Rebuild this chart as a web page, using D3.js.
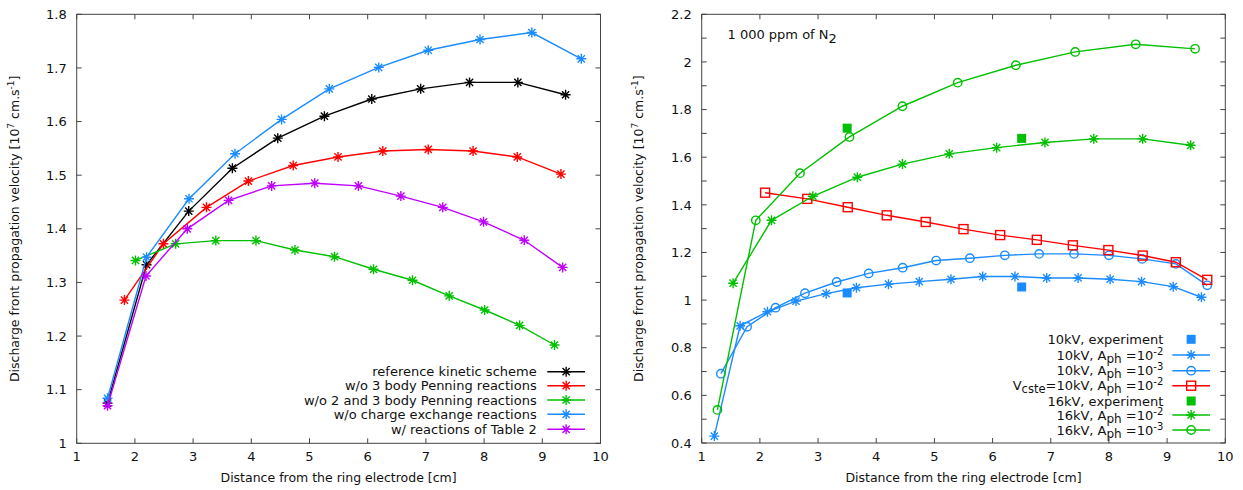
<!DOCTYPE html>
<html><head><meta charset="utf-8">
<script src="https://cdn.jsdelivr.net/npm/d3@7"></script>
<style>body{margin:0;background:#fff}svg{display:block;font-family:"DejaVu Sans",sans-serif}</style>
</head><body><svg id="c" width="1243" height="490"></svg>
<script>
// ---------- Left panel data ----------
const refX = [1.53,2.20,2.925,3.675,4.455,5.256,6.07,6.91,7.75,8.58,9.40];
const refY = [1.075,1.333,1.433,1.513,1.569,1.610,1.642,1.661,1.673,1.673,1.650];
const no3X = [1.82,2.49,3.23,3.95,4.72,5.49,6.26,7.04,7.81,8.57,9.32];
const no3Y = [1.267,1.372,1.440,1.489,1.518,1.534,1.545,1.548,1.545,1.534,1.502];
const no23X = [2.01,2.70,3.39,4.08,4.75,5.43,6.10,6.77,7.40,8.01,8.61,9.21];
const no23Y = [1.341,1.372,1.378,1.378,1.3605,1.348,1.3245,1.304,1.275,1.2486,1.220,1.1833];
const noceX = [1.53,2.20,2.93,3.72,4.52,5.34,6.19,7.04,7.93,8.82,9.67];
const noceY = [1.084,1.347,1.456,1.540,1.604,1.661,1.701,1.733,1.753,1.766,1.717];
const t2X = [1.53,2.19,2.90,3.61,4.35,5.09,5.84,6.57,7.29,7.99,8.69,9.35];
const t2Y = [1.070,1.312,1.400,1.453,1.480,1.485,1.480,1.461,1.440,1.413,1.3786,1.328];
const leftNames = ["reference kinetic scheme","w/o 3 body Penning reactions","w/o 2 and 3 body Penning reactions","w/o charge exchange reactions","w/ reactions of Table 2"];
const leftXTicks = [1,2,3,4,5,6,7,8,9,10];
const leftYTicks = [1,1.1,1.2,1.3,1.4,1.5,1.6,1.7,1.8];

// ---------- Right panel data ----------
const exp10X = [3.50,6.50];
const exp10Y = [1.030,1.055];
const b2X = [1.217,1.66,2.13,2.62,3.14,3.66,4.21,4.74,5.285,5.83,6.385,6.93,7.47,8.02,8.56,9.105,9.59];
const b2Y = [0.429,0.892,0.951,0.996,1.027,1.052,1.067,1.0775,1.0875,1.099,1.099,1.093,1.093,1.0875,1.0775,1.0565,1.012];
const b3X = [1.33,1.78,2.27,2.775,3.32,3.87,4.455,5.03,5.61,6.21,6.80,7.40,8.00,8.57,9.15,9.69];
const b3Y = [0.691,0.888,0.968,1.029,1.076,1.112,1.136,1.166,1.176,1.188,1.194,1.194,1.188,1.173,1.152,1.062];
const vcX = [2.09,2.815,3.51,4.18,4.85,5.50,6.13,6.76,7.38,7.99,8.58,9.15,9.69];
const vcY = [1.451,1.425,1.390,1.356,1.328,1.298,1.273,1.253,1.230,1.210,1.187,1.159,1.085];
const exp16X = [3.50,6.50];
const exp16Y = [1.722,1.679];
const g2X = [1.54,2.20,2.91,3.675,4.45,5.255,6.07,6.90,7.74,8.58,9.405];
const g2Y = [1.071,1.335,1.436,1.516,1.571,1.614,1.640,1.662,1.677,1.677,1.650];
const g3X = [1.27,1.93,2.69,3.54,4.45,5.40,6.40,7.42,8.46,9.48];
const g3Y = [0.539,1.335,1.533,1.685,1.814,1.913,1.986,2.042,2.074,2.055];
const rightXTicks = [1,2,3,4,5,6,7,8,9,10];
const rightYTicks = [0.4,0.6,0.8,1,1.2,1.4,1.6,1.8,2,2.2];
const rightYMinor = [0.5,0.7,0.9,1.1,1.3,1.5,1.7,1.9,2.1];

const svg = d3.select("#c");
const FONT = 13;

function asterisk(g, x, y, color, r=5){
  const d = `M${x-r},${y}H${x+r}M${x},${y-r}V${y+r}M${x-r*0.72},${y-r*0.72}L${x+r*0.72},${y+r*0.72}M${x-r*0.72},${y+r*0.72}L${x+r*0.72},${y-r*0.72}`;
  g.append("path").attr("d", d).attr("stroke", color).attr("stroke-width", 1.4).attr("fill","none");
}
function circle(g, x, y, color){
  g.append("circle").attr("cx",x).attr("cy",y).attr("r",4.2).attr("fill","none").attr("stroke",color).attr("stroke-width",1.4);
}
function square(g, x, y, color){
  g.append("rect").attr("x",x-4.5).attr("y",y-4.5).attr("width",9).attr("height",9).attr("fill","none").attr("stroke",color).attr("stroke-width",1.4);
}
function fsquare(g, x, y, color){
  g.append("rect").attr("x",x-4.5).attr("y",y-4.5).attr("width",9).attr("height",9).attr("fill",color);
}
const markers = {ast:asterisk, circ:circle, sq:square, fsq:fsquare};

function panel(opt){
  const g = svg.append("g");
  const x = d3.scaleLinear().domain([1,10]).range([opt.x0,opt.x1]);
  const y = d3.scaleLinear().domain(opt.ydom).range([opt.y1,opt.y0]);
  const frame = "#444";
  const tl = 5;
  opt.xticks.forEach(v=>{
    const px = x(v);
    g.append("line").attr("x1",px).attr("x2",px).attr("y1",opt.y1).attr("y2",opt.y1-tl).attr("stroke",frame);
    g.append("line").attr("x1",px).attr("x2",px).attr("y1",opt.y0).attr("y2",opt.y0+tl).attr("stroke",frame);
    g.append("text").attr("x",px).attr("y",opt.y1+18).attr("text-anchor","middle").attr("font-size",FONT).attr("fill","#111").text(d3.format("d")(v));
  });
  opt.yticks.concat(opt.yminor||[]).forEach(v=>{
    const py = y(v);
    g.append("line").attr("x1",opt.x0).attr("x2",opt.x0+tl).attr("y1",py).attr("y2",py).attr("stroke",frame);
    g.append("line").attr("x1",opt.x1).attr("x2",opt.x1-tl).attr("y1",py).attr("y2",py).attr("stroke",frame);
  });
  opt.yticks.forEach(v=>{
    g.append("text").attr("x",opt.x0-10).attr("y",y(v)).attr("dy","0.36em").attr("text-anchor","end").attr("font-size",FONT).attr("fill","#111").text(String(+v.toFixed(1)));
  });
  g.append("rect").attr("x",opt.x0).attr("y",opt.y0).attr("width",opt.x1-opt.x0).attr("height",opt.y1-opt.y0).attr("fill","none").attr("stroke",frame).attr("stroke-width",1);
  g.append("text").attr("x",(opt.x0+opt.x1)/2).attr("y",482).attr("text-anchor","middle").attr("font-size",12.5).attr("fill","#111").text("Distance from the ring electrode [cm]");
  const yt = g.append("text").attr("transform",`translate(${opt.ytx},${(opt.y0+opt.y1)/2}) rotate(-90)`).attr("text-anchor","middle").attr("font-size",12.5).attr("fill","#111");
  yt.append("tspan").text("Discharge front propagation velocity [10");
  yt.append("tspan").attr("dy",-5).attr("font-size",9).text("7");
  yt.append("tspan").attr("dy",5).text(" cm.s");
  yt.append("tspan").attr("dy",-5).attr("font-size",9).text("-1");
  yt.append("tspan").attr("dy",5).text("]");
  const line = d3.line().x(d=>x(d[0])).y(d=>y(d[1]));
  opt.series.forEach(s=>{
    const pts = s.xs.map((v,i)=>[v,s.ys[i]]);
    if(s.line) g.append("path").attr("d",line(pts)).attr("fill","none").attr("stroke",s.color).attr("stroke-width",1.4);
    pts.forEach(p=>markers[s.marker](g,x(p[0]),y(p[1]),s.color));
  });
  opt.series.forEach((s,i)=>{
    const ly = opt.legY[i];
    const t = g.append("text").attr("x",opt.legTextX).attr("y",ly).attr("dy","0.36em").attr("text-anchor","end").attr("font-size",FONT).attr("fill","#111");
    s.label(t);
    if(s.line) g.append("line").attr("x1",opt.legL0).attr("x2",opt.legL1).attr("y1",ly).attr("y2",ly).attr("stroke",s.color).attr("stroke-width",1.4);
    markers[s.marker](g,(opt.legL0+opt.legL1)/2,ly,s.color);
  });
  return {g,x,y};
}
const plain = s => t => t.text(s);
function aph(prefix, exp){
  return t=>{
    t.append("tspan").text(prefix+", A");
    t.append("tspan").attr("dy",3).attr("font-size",12).text("ph");
    t.append("tspan").attr("dy",-3).text(" =10");
    t.append("tspan").attr("dy",-5).attr("font-size",10).text(exp);
  };
}
function vcste(t){
  t.append("tspan").text("V");
  t.append("tspan").attr("dy",3).attr("font-size",11.5).text("cste");
  t.append("tspan").attr("dy",-3).text("=10kV, A");
  t.append("tspan").attr("dy",3).attr("font-size",12).text("ph");
  t.append("tspan").attr("dy",-3).text(" =10");
  t.append("tspan").attr("dy",-5).attr("font-size",10).text("-2");
}

const BLACK="#000000", RED="#ff0000", GREEN="#00c000", BLUE="#1a8cff", PURPLE="#c000ff";

panel({
  x0:76.7, x1:600.5, y0:14.3, y1:443.3, ydom:[1,1.8], ytx:19,
  xticks:leftXTicks, yticks:leftYTicks,
  legTextX:536.7, legL0:547.3, legL1:585, legY:[371.7,385.7,400,414.3,429.3],
  series:[
    {xs:refX, ys:refY, color:BLACK, marker:"ast", line:true, label:plain(leftNames[0])},
    {xs:no3X, ys:no3Y, color:RED, marker:"ast", line:true, label:plain(leftNames[1])},
    {xs:no23X, ys:no23Y, color:GREEN, marker:"ast", line:true, label:plain(leftNames[2])},
    {xs:noceX, ys:noceY, color:BLUE, marker:"ast", line:true, label:plain(leftNames[3])},
    {xs:t2X, ys:t2Y, color:PURPLE, marker:"ast", line:true, label:plain(leftNames[4])}
  ]
});

panel({
  x0:701.7, x1:1225.3, y0:14.3, y1:443, ydom:[0.4,2.2], ytx:643,
  xticks:rightXTicks, yticks:rightYTicks, yminor:rightYMinor,
  legTextX:1163.3, legL0:1172.3, legL1:1210, legY:[339.3,355,370.7,385.7,401,415,430],
  series:[
    {xs:exp10X, ys:exp10Y, color:BLUE, marker:"fsq", line:false, label:plain("10kV, experiment")},
    {xs:b2X, ys:b2Y, color:BLUE, marker:"ast", line:true, label:aph("10kV","-2")},
    {xs:b3X, ys:b3Y, color:BLUE, marker:"circ", line:true, label:aph("10kV","-3")},
    {xs:vcX, ys:vcY, color:RED, marker:"sq", line:true, label:vcste},
    {xs:exp16X, ys:exp16Y, color:GREEN, marker:"fsq", line:false, label:plain("16kV, experiment")},
    {xs:g2X, ys:g2Y, color:GREEN, marker:"ast", line:true, label:aph("16kV","-2")},
    {xs:g3X, ys:g3Y, color:GREEN, marker:"circ", line:true, label:aph("16kV","-3")}
  ]
});
const ann = svg.append("text").attr("x",727.5).attr("y",39).attr("font-size",FONT).attr("fill","#111");
ann.append("tspan").text("1 000 ppm of N");
ann.append("tspan").attr("dy",4).text("2");
</script></body></html>
